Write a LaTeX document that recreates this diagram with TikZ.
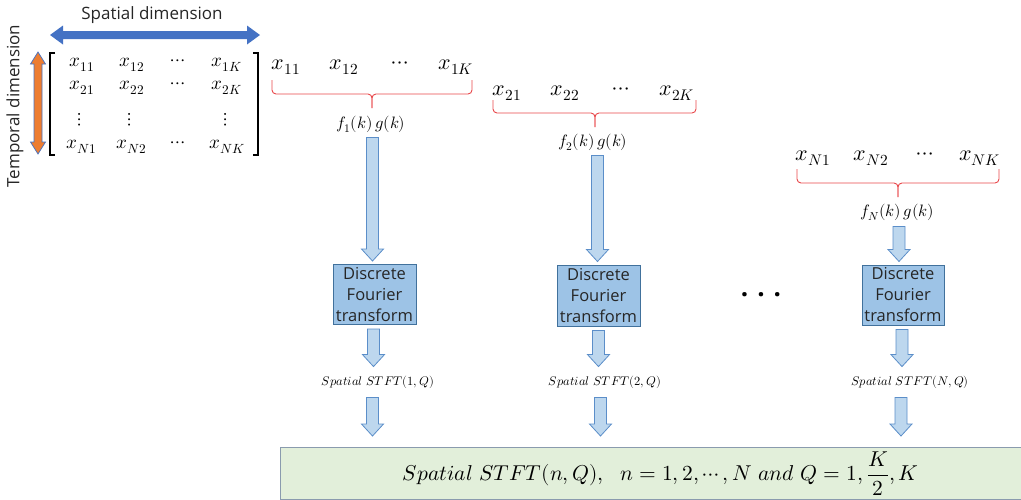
\documentclass[tikz,border=0pt]{standalone}
\usepackage{amsmath}
\usepackage{unicode-math}
\newfontfamily\uifont{Open Sans}
\usetikzlibrary{calc}
\definecolor{dimblue}{HTML}{4472C4}
\definecolor{dimorange}{HTML}{ED7D31}
\definecolor{bracered}{HTML}{E8474A}
\definecolor{arrowfill}{HTML}{BDD7EE}
\definecolor{arrowline}{HTML}{5B8EC9}
\definecolor{dftfill}{HTML}{9DC3E6}
\definecolor{dftline}{HTML}{41719C}
\definecolor{outfill}{HTML}{E2EFDA}
\definecolor{outboxline}{HTML}{8A9BAE}
\begin{document}
\begin{tikzpicture}[x=1pt,y=-1pt,
  dimtext/.style={inner sep=0pt, text=black!85, font=\uifont\fontsize{17}{20}\selectfont},
  matent/.style={inner sep=0pt, font=\fontsize{19}{21}\selectfont},
  rowent/.style={inner sep=0pt, font=\fontsize{22}{24}\selectfont},
  wlabel/.style={inner sep=0pt, font=\fontsize{16.5}{18}\selectfont},
  stftlabel/.style={inner sep=0pt, font=\fontsize{12.5}{14}\selectfont},
  dftbox/.style={draw=dftline, fill=dftfill, line width=1pt, minimum width=83pt,
    minimum height=60pt, inner sep=0pt, align=center, text=black!85,
    font=\uifont\fontsize{16.5}{21}\selectfont},
  outbox/.style={draw=outboxline, fill=outfill, line width=1pt, inner sep=0pt,
    font=\fontsize{21.5}{25}\selectfont},
  bracepath/.style={draw=bracered, line width=0.9pt, rounded corners=4pt},
  fatarrow/.style={draw=arrowline, fill=arrowfill, line width=0.8pt,
    to path={let \p1=(\tikztostart), \p2=(\tikztotarget) in
      (\x1-6,\y1) -- (\x1+6,\y1) -- (\x1+6,\y2+12) -- (\x1+11,\y2+12)
      -- (\x1,\y2) -- (\x1-11,\y2+12) -- (\x1-6,\y2+12) -- cycle}},
]
\useasboundingbox (0,0) rectangle (1021,499);

% dimension arrows and their captions
\node[dimtext] (spdim) at (152,15) {Spatial dimension};
\node[dimtext, rotate=90] (tpdim) at (15,106) {Temporal dimension};
\fill[dimblue] (50,35) -- (63,25.5) -- (63,31) -- (247,31) -- (247,25.5) -- (260,35)
  -- (247,44.5) -- (247,39) -- (63,39) -- (63,44.5) -- cycle;
\filldraw[fill=dimorange, draw=dimblue, line width=0.7pt]
  (38,52) -- (45.5,64) -- (42,64) -- (42,142) -- (45.5,142) -- (38,154)
  -- (30.5,142) -- (34,142) -- (34,64) -- (30.5,64) -- cycle;

% data matrix
\draw[line width=1.2pt] (55,53) -- (50,53) -- (50,155) -- (55,155);
\draw[line width=1.2pt] (253,53) -- (258,53) -- (258,155) -- (253,155);
\node[matent] (m11) at (82,65) {$x_{11}$};
\node[matent] (m12) at (132,65) {$x_{12}$};
\node[matent] (m1d) at (178,63) {$\cdots$};
\node[matent] (m1k) at (227,65) {$x_{1K}$};
\node[matent] (m21) at (82,88) {$x_{21}$};
\node[matent] (m22) at (132,88) {$x_{22}$};
\node[matent] (m2d) at (178,86) {$\cdots$};
\node[matent] (m2k) at (227,88) {$x_{2K}$};
\node[matent] (m31) at (80,120) {$\vdots$};
\node[matent] (m32) at (130,120) {$\vdots$};
\node[matent] (m3k) at (226,120) {$\vdots$};
\node[matent] (mn1) at (82,147) {$x_{N1}$};
\node[matent] (mn2) at (132,147) {$x_{N2}$};
\node[matent] (mnd) at (178,145) {$\cdots$};
\node[matent] (mnk) at (227,147) {$x_{NK}$};

% row 1
\node[rowent] (r11) at (286,67) {$x_{11}$};
\node[rowent] (r12) at (344,67) {$x_{12}$};
\node[rowent] (r1d) at (400,65) {$\cdots$};
\node[rowent] (r1k) at (456,67) {$x_{1K}$};
\draw[bracepath] (272,80) -- (272,94) -- (372,94) -- (372,108);
\draw[bracepath] (472,80) -- (472,94) -- (372,94) -- (372,108);
\node[wlabel] (f1) at (371,124) {$f_{1}(k)\,g(k)$};

% row 2
\node[rowent] (r21) at (507,93) {$x_{21}$};
\node[rowent] (r22) at (565,93) {$x_{22}$};
\node[rowent] (r2d) at (621,91) {$\cdots$};
\node[rowent] (r2k) at (677,93) {$x_{2K}$};
\draw[bracepath] (493,100) -- (493,113) -- (595,113) -- (595,127);
\draw[bracepath] (696,100) -- (696,113) -- (595,113) -- (595,127);
\node[wlabel] (f2) at (593,142) {$f_{2}(k)\,g(k)$};

% row N
\node[rowent] (rn1) at (813,158) {$x_{N1}$};
\node[rowent] (rn2) at (871,158) {$x_{N2}$};
\node[rowent] (rnd) at (925,156) {$\cdots$};
\node[rowent] (rnk) at (980,158) {$x_{NK}$};
\draw[bracepath] (797,169) -- (797,183) -- (898,183) -- (898,197);
\draw[bracepath] (999,169) -- (999,183) -- (898,183) -- (898,197);
\node[wlabel] (fn) at (897,212) {$f_{N}(k)\,g(k)$};

% transform blocks
\node[dftbox] (dft1) at (374.5,294.5) {Discrete\\Fourier\\transform};
\node[dftbox, minimum height=61pt] (dft2) at (598.5,295.5) {Discrete\\Fourier\\transform};
\node[dftbox, minimum width=82pt] (dftn) at (903,295) {Discrete\\Fourier\\transform};
\node[inner sep=0pt, font=\uifont\bfseries\fontsize{26}{26}\selectfont] (more) at (761,295)
  {.\hspace{9pt}.\hspace{9pt}.};

% per-row spectra
\node[stftlabel] (s1) at (378,382) {$Spatial\ STFT(1,Q)$};
\node[stftlabel] (s2) at (605,382) {$Spatial\ STFT(2,Q)$};
\node[stftlabel] (sn) at (910,382) {$Spatial\ STFT(N,Q)$};

% collected result
\node[outbox, anchor=north west, minimum width=760pt, minimum height=52pt] (out) at (280,447)
  {$Spatial\ STFT(n,Q),\ \ n=1,2,\cdots,N\ and\ Q=1,\dfrac{K}{2},K$};

% flow arrows
\draw[fatarrow] ($(f1.south -| dft1.north)+(-2,5)$) to ($(dft1.north)+(-2,-3)$);
\draw[fatarrow] ($(f2.south -| dft2.north)+(-1,5)$) to ($(dft2.north)+(-1,-3)$);
\draw[fatarrow] ($(fn.south -| dftn.north)+(-4,6)$) to ($(dftn.north)+(-4,-3)$);
\draw[fatarrow] ($(dft1.south)+(-1,4)$) to ($(s1.north -| dft1.south)+(-1,-9)$);
\draw[fatarrow] ($(dft2.south)+(0,4)$) to ($(s2.north -| dft2.south)+(0,-9)$);
\draw[fatarrow] ($(dftn.south)+(-1,4)$) to ($(sn.north -| dftn.south)+(-1,-9)$);
\draw[fatarrow] ($(s1.south -| dft1.south)+(-2,9)$) to ($(out.north -| dft1.south)+(-2,-11)$);
\draw[fatarrow] ($(s2.south -| dft2.south)+(2,9)$) to ($(out.north -| dft2.south)+(2,-11)$);
\draw[fatarrow] ($(sn.south -| dftn.south)+(-2,9)$) to ($(out.north -| dftn.south)+(-2,-11)$);
\end{tikzpicture}
\end{document}
